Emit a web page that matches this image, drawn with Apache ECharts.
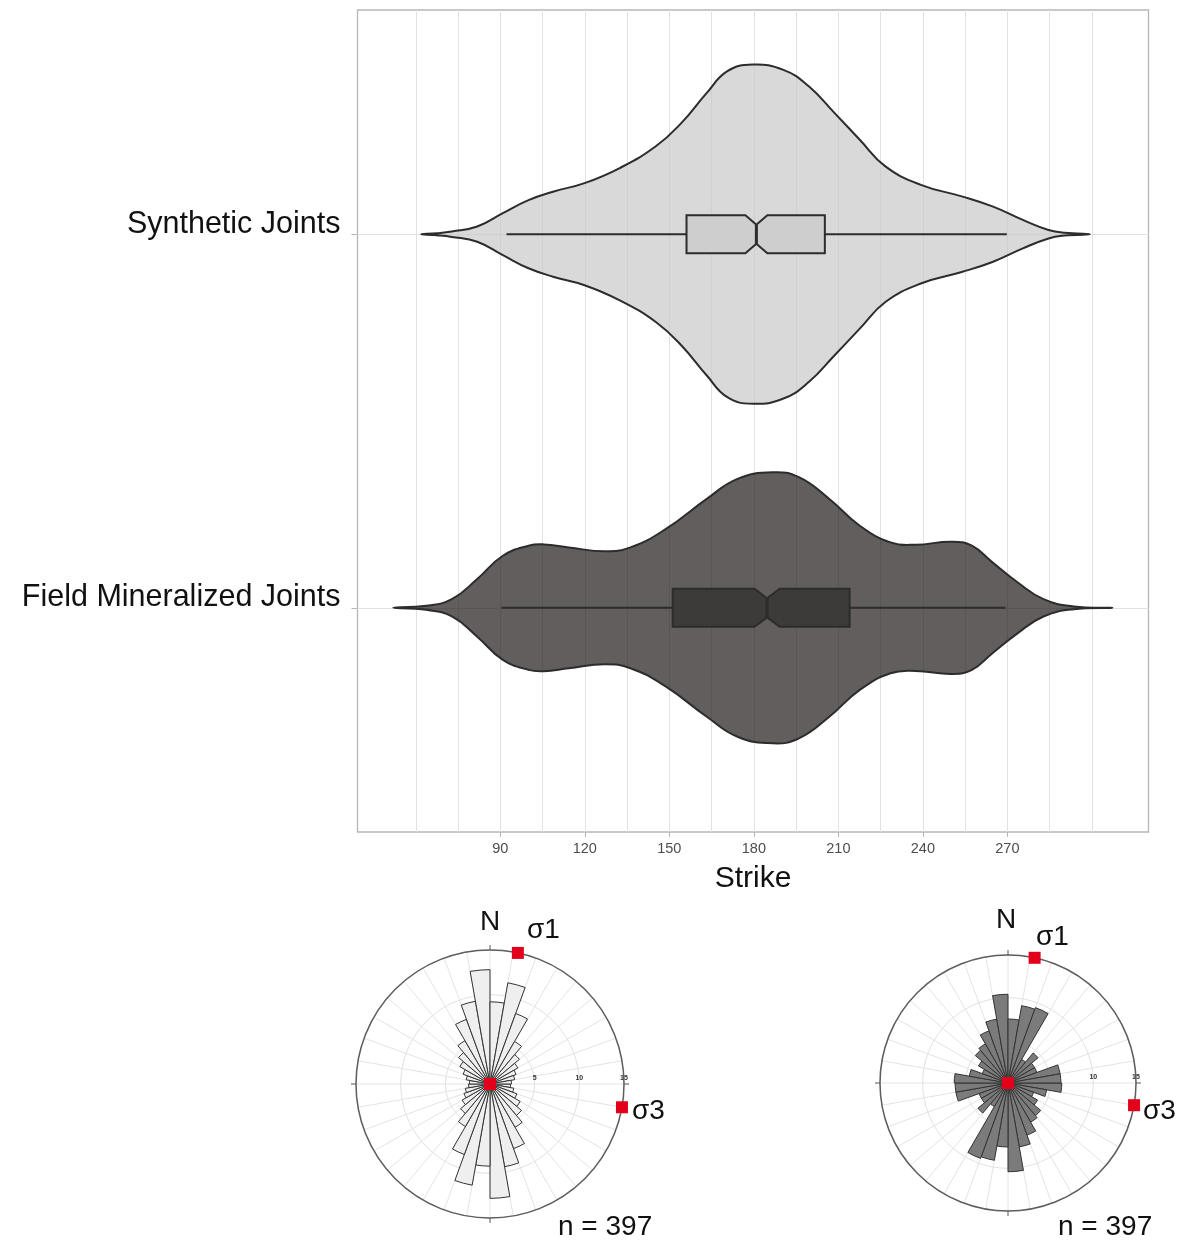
<!DOCTYPE html>
<html>
<head>
<meta charset="utf-8">
<script src="https://cdn.jsdelivr.net/npm/echarts@6/dist/echarts.min.js"></script>
<style>
  html, body { margin: 0; padding: 0; background: #ffffff; }
  #chart { width: 1182px; height: 1241px; }
</style>
</head>
<body>
<div id="chart"></div>
<script>
// ---- Violin plot: strike distributions ----
const groups = ['Synthetic Joints', 'Field Mineralized Joints'];
const strikeTicks = [90, 120, 150, 180, 210, 240, 270];
const strikeGridLines = [60, 75, 90, 105, 120, 135, 150, 165, 180, 195, 210, 225, 240, 255, 270, 285, 300];

// kernel density outline (strike in degrees, density relative to the tallest peak)
const synStrike  = [61.9, 67.5, 72.8, 81.8, 90.9, 100.0, 109.0, 119.9, 132.4, 145.2, 154.3, 163.3, 170.6, 179.6, 190.5, 199.5, 208.6, 217.6, 226.7, 239.3, 253.8, 264.7, 275.5, 284.6, 290.4, 299.3];
const synDensity = [0, 0.006, 0.016, 0.045, 0.124, 0.201, 0.252, 0.301, 0.390, 0.518, 0.656, 0.833, 0.961, 1.0, 0.969, 0.872, 0.715, 0.557, 0.400, 0.291, 0.223, 0.164, 0.084, 0.025, 0.008, 0];
const fieldStrike  = [52.0, 63.7, 72.8, 81.8, 90.9, 100.0, 105.4, 114.3, 127.1, 136.2, 148.8, 163.3, 174.2, 186.7, 196.0, 206.8, 217.6, 228.5, 237.5, 250.3, 257.4, 264.7, 273.7, 282.8, 293.6, 307.3];
const fieldDensity = [0, 0.012, 0.051, 0.170, 0.307, 0.366, 0.374, 0.356, 0.333, 0.356, 0.465, 0.642, 0.760, 0.799, 0.770, 0.642, 0.484, 0.386, 0.372, 0.390, 0.366, 0.268, 0.149, 0.051, 0.008, 0];

// notched box: whisker low, Q1, notch low, median, notch high, Q3, whisker high
const synBox   = [92.2, 156.1, 177.0, 180.9, 184.8, 205.2, 269.8];
const fieldBox = [90.4, 151.2, 180.2, 184.7, 189.2, 214.0, 269.3];

// ---- Rose diagrams: percentage of strikes per 10° bin (0–180°, axial) ----
const roseBinStart  = [0, 10, 20, 30, 40, 50, 60, 70, 80, 90, 100, 110, 120, 130, 140, 150, 160, 170];
const syntheticRose = [9.2, 11.5, 8.4, 5.5, 4.3, 3.6, 3.1, 2.8, 2.4, 2.3, 2.7, 3.2, 3.9, 4.6, 5.6, 7.7, 9.4, 12.8];
const fieldRose     = [7.5, 9.2, 9.4, 3.2, 4.6, 3.6, 3.6, 6.2, 6.2, 6.3, 4.6, 3.2, 4.0, 5.0, 5.3, 6.5, 7.6, 10.4];
const roseRings = [5, 10, 15];
const sigma1Azimuth = 12;
const sigma3Azimuth = 100;
const sampleCount = [397, 397];

const violinStrike  = [synStrike, fieldStrike];
const violinDensity = [synDensity, fieldDensity];
const boxStats = [synBox, fieldBox];

const violinFill = ['rgba(201,201,201,0.7)', 'rgba(32,26,26,0.7)'];
const boxFill = ['#cecece', '#3d3a3a'];
const outline = '#2c2c2c';
const maxHalfWidth = 0.454;   // half-width (in category units) of the widest violin
const boxHalf = 0.051;

// strike data are axial: a bin at θ is also plotted at θ + 180
function axial(values) { return values.concat(values); }
// the polar radius axis lies along east, so the angle axis starts at the 90° bin
function fromEast(arr) { return arr.slice(9).concat(arr.slice(0, 9)); }
const roseCategories = fromEast(roseBinStart.concat(roseBinStart.map(function (b) { return b + 180; })).map(String));

function renderViolin(params, api) {
  const i = params.dataIndex;
  const pos = i + 1;
  const st = violinStrike[i];
  const dn = violinDensity[i];
  const upper = [], lower = [];
  for (let k = 0; k < st.length; k++) {
    upper.push(api.coord([st[k], pos - dn[k] * maxHalfWidth]));
    if (k > 0 && k < st.length - 1) lower.push(api.coord([st[k], pos + dn[k] * maxHalfWidth]));
  }
  const shape = upper.concat(lower.reverse());
  const b = boxStats[i];
  const h = boxHalf, n = boxHalf / 2;
  const boxPts = [
    [b[1], pos - h], [b[2], pos - h], [b[3], pos - n], [b[4], pos - h], [b[5], pos - h],
    [b[5], pos + h], [b[4], pos + h], [b[3], pos + n], [b[2], pos + h], [b[1], pos + h]
  ].map(function (p) { return api.coord(p); });
  const wl = api.coord([b[0], pos]), q1 = api.coord([b[1], pos]);
  const q3 = api.coord([b[5], pos]), wh = api.coord([b[6], pos]);
  const m1 = api.coord([b[3], pos - n]), m2 = api.coord([b[3], pos + n]);
  return {
    type: 'group',
    children: [
      { type: 'polygon', shape: { points: shape, smooth: 0.45 },
        style: { fill: violinFill[i], stroke: outline, lineWidth: 2 } },
      { type: 'line', shape: { x1: wl[0], y1: wl[1], x2: q1[0], y2: q1[1] },
        style: { stroke: outline, lineWidth: 2 } },
      { type: 'line', shape: { x1: q3[0], y1: q3[1], x2: wh[0], y2: wh[1] },
        style: { stroke: outline, lineWidth: 2 } },
      { type: 'polygon', shape: { points: boxPts },
        style: { fill: boxFill[i], stroke: outline, lineWidth: 2 } },
      { type: 'line', shape: { x1: m1[0], y1: m1[1], x2: m2[0], y2: m2[1] },
        style: { stroke: outline, lineWidth: 3 } }
    ]
  };
}

const FONT = '"Liberation Sans", Arial, Helvetica, sans-serif';

// bars and cardinal ticks
function roseAngleAxis(idx) {
  return {
    polarIndex: idx, type: 'category', data: roseCategories,
    startAngle: 0, clockwise: true, boundaryGap: true,
    axisLine: { show: true, lineStyle: { color: '#5e5e5e', width: 1.5 } },
    axisTick: { show: true, interval: 8, length: 5, lineStyle: { color: '#555555', width: 1 } },
    axisLabel: { show: false },
    splitLine: { show: false },
    z: 5
  };
}
function roseRadiusAxis(idx) {
  return {
    polarIndex: idx, type: 'value', min: 0, max: 15, interval: 5,
    axisLine: { show: false },
    axisTick: { show: false },
    axisLabel: { customValues: roseRings, fontSize: 7, fontWeight: 'bold', color: '#333333',
                 margin: 2, fontFamily: FONT },
    splitLine: { show: true, lineStyle: { color: '#e2e2e2', width: 1 } },
    z: 3
  };
}
// companion compass polar: 10° spokes and the stress-axis markers
function compassAngle(idx) {
  return {
    polarIndex: idx, type: 'value', min: 0, max: 360, interval: 10, startAngle: 90, clockwise: true,
    axisLine: { show: false }, axisTick: { show: false }, axisLabel: { show: false },
    splitLine: { show: true, lineStyle: { color: '#e4e4e4', width: 1 } }
  };
}
function compassRadius(idx) {
  return { polarIndex: idx, type: 'value', min: 0, max: 15,
           axisLine: { show: false }, axisTick: { show: false }, axisLabel: { show: false },
           splitLine: { show: false } };
}

function txt(x, y, s, align) {
  return { type: 'text', x: x, y: y, z: 100,
    style: { text: s, fontSize: 28, fontFamily: FONT, fill: '#111111',
             align: align || 'center', verticalAlign: 'middle' } };
}

const chart = echarts.init(document.getElementById('chart'), null, { renderer: 'canvas' });
chart.setOption({
  backgroundColor: '#ffffff',
  animation: false,
  textStyle: { fontFamily: FONT },
  grid: { left: 357.5, top: 10, width: 791, height: 822, show: true,
          borderColor: '#b5b5b5', borderWidth: 1.3, backgroundColor: 'transparent' },
  xAxis: {
    type: 'value', min: 39.3, max: 320.1,
    name: 'Strike', nameLocation: 'middle', nameGap: 32,
    nameTextStyle: { fontSize: 30, color: '#111111', fontFamily: FONT },
    axisLine: { show: false },
    axisTick: { show: true, customValues: strikeTicks, length: 5, lineStyle: { color: '#b5b5b5' } },
    axisLabel: { customValues: strikeTicks, fontSize: 14.5, color: '#4d4d4d', margin: 9, fontFamily: FONT },
    splitLine: { show: false }
  },
  yAxis: {
    type: 'value', min: 0.4, max: 2.6, inverse: true,
    axisLine: { show: false },
    axisTick: { show: true, customValues: [1, 2], length: 6, lineStyle: { color: '#b5b5b5' } },
    axisLabel: { customValues: [1, 2], formatter: function (v) { return groups[Math.round(v) - 1]; },
                 fontSize: 30.5, color: '#111111', margin: 17, fontFamily: FONT,
                 verticalAlign: 'bottom', lineHeight: 20 },
    splitLine: { show: false }
  },
  polar: [
    { center: [490, 1084], radius: 134 },
    { center: [1008, 1083], radius: 128 },
    { center: [490, 1084], radius: 134 },
    { center: [1008, 1083], radius: 128 }
  ],
  angleAxis: [roseAngleAxis(0), roseAngleAxis(1), compassAngle(2), compassAngle(3)],
  radiusAxis: [roseRadiusAxis(0), roseRadiusAxis(1), compassRadius(2), compassRadius(3)],
  series: [
    {
      type: 'custom', name: 'Strike', z: 10,
      renderItem: renderViolin,
      data: [[synBox[1], 1], [fieldBox[1], 2]],
      encode: { x: 0, y: 1 },
      markLine: {
        silent: true, symbol: ['none', 'none'], z: 1, animation: false,
        label: { show: false },
        lineStyle: { color: '#e2e2e2', width: 1, type: 'solid' },
        data: strikeGridLines.map(function (v) { return { xAxis: v }; })
          .concat([{ yAxis: 1 }, { yAxis: 2 }])
      }
    },
    {
      type: 'bar', coordinateSystem: 'polar', polarIndex: 0, name: groups[0],
      data: fromEast(axial(syntheticRose)), barCategoryGap: '0%', z: 4,
      itemStyle: { color: '#efefef', borderColor: '#333333', borderWidth: 1 }
    },
    {
      type: 'bar', coordinateSystem: 'polar', polarIndex: 1, name: groups[1],
      data: fromEast(axial(fieldRose)), barCategoryGap: '0%', z: 4,
      itemStyle: { color: '#7b7b7b', borderColor: '#333333', borderWidth: 1 }
    },
    {
      type: 'scatter', coordinateSystem: 'polar', polarIndex: 2, symbol: 'rect', symbolSize: 12, z: 20,
      itemStyle: { color: '#e2001a', opacity: 1 },
      data: [[15, sigma1Azimuth], [15, sigma3Azimuth], [0, 0]]
    },
    {
      type: 'scatter', coordinateSystem: 'polar', polarIndex: 3, symbol: 'rect', symbolSize: 12, z: 20,
      itemStyle: { color: '#e2001a', opacity: 1 },
      data: [[15, sigma1Azimuth], [15, sigma3Azimuth], [0, 0]]
    }
  ],
  graphic: [
    txt(490, 922, 'N'),
    txt(527, 930, 'σ1', 'left'),
    txt(632, 1111, 'σ3', 'left'),
    txt(558, 1227, 'n = ' + sampleCount[0], 'left'),
    txt(1006, 920, 'N'),
    txt(1036, 937, 'σ1', 'left'),
    txt(1143, 1111, 'σ3', 'left'),
    txt(1058, 1227, 'n = ' + sampleCount[1], 'left')
  ]
});
</script>
</body>
</html>
